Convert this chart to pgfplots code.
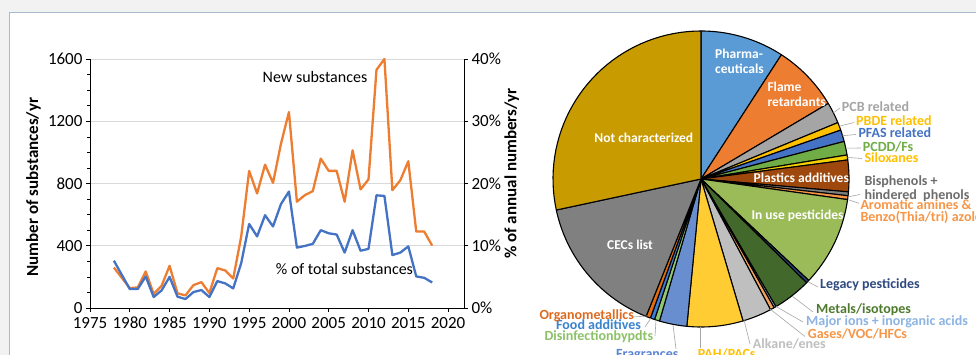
\documentclass[border=0pt]{standalone}
\usepackage{fontspec}
\setmainfont{Carlito}
\usepackage{pgfplots}
\pgfplotsset{compat=1.18}
\definecolor{bgGray}{HTML}{F2F2F2}
\definecolor{frameBlue}{HTML}{A9B9CF}
\definecolor{gridGray}{HTML}{D9D9D9}
\definecolor{orangeL}{HTML}{ED7D31}
\definecolor{blueL}{HTML}{4472C4}
\definecolor{cPharma}{HTML}{5B9BD5}
\definecolor{cFlame}{HTML}{ED7D31}
\definecolor{cPCB}{HTML}{A5A5A5}
\definecolor{cPBDE}{HTML}{FFC000}
\definecolor{cPFAS}{HTML}{4472C4}
\definecolor{cPCDD}{HTML}{70AD47}
\definecolor{cSilox}{HTML}{F5D000}
\definecolor{cPlast}{HTML}{9E480E}
\definecolor{cBisph}{HTML}{7F7F7F}
\definecolor{cArom}{HTML}{F79646}
\definecolor{cInuse}{HTML}{9BBB59}
\definecolor{cLegacy}{HTML}{264478}
\definecolor{cMetals}{HTML}{43682B}
\definecolor{cMajor}{HTML}{9DC3E6}
\definecolor{cGases}{HTML}{F4A460}
\definecolor{cAlkane}{HTML}{BFBFBF}
\definecolor{cPAH}{HTML}{FFCD33}
\definecolor{cFrag}{HTML}{698ED0}
\definecolor{cDisinf}{HTML}{8FC970}
\definecolor{cFood}{HTML}{3B7DD8}
\definecolor{cOrgano}{HTML}{E46C0A}
\definecolor{cCEC}{HTML}{808080}
\definecolor{cNotChar}{HTML}{C89B00}
\definecolor{tBisph}{HTML}{6D6D6D}
\definecolor{tLegacy}{HTML}{2F4A80}
\definecolor{tMetals}{HTML}{4E7A2E}
\definecolor{tMajor}{HTML}{8DB4E2}
\definecolor{tFrag}{HTML}{5B83D6}
\definecolor{tFood}{HTML}{3A83CF}
\definecolor{tOrgano}{HTML}{DD6A1E}
\definecolor{tDisinf}{HTML}{8CC168}
\definecolor{leader}{HTML}{A6A6A6}
\newcommand{\slice}[3]{\addplot[fill=#1, draw=black, line width=1.1pt, line join=round, domain=#2:#3, samples=40, variable=\t] ({cos(\t)},{sin(\t)}) -- (axis cs:0,0) -- cycle;}
\begin{document}
\begin{tikzpicture}
\useasboundingbox (0,0) rectangle (976pt,355pt);
\fill[bgGray] (0,0) rectangle (976pt,355pt);
\fill[white] (9pt,0) rectangle (976pt,342.3pt);
\draw[frameBlue, line width=0.8pt] (9pt,0) -- (9pt,342.3pt) -- (976pt,342.3pt);

% ---------- line chart, left axis ----------
\begin{axis}[
  at={(90pt,47pt)}, anchor=south west, scale only axis,
  width=374pt, height=249pt,
  xmin=1975, xmax=2022, ymin=0, ymax=1600,
  axis x line*=bottom, axis y line*=left,
  xtick={1975,1980,...,2020}, ytick={0,400,...,1600}, minor y tick num=3,
  ymajorgrids, major grid style={gridGray, line width=0.8pt},
  tick align=outside, major tick length=4pt, minor tick length=3pt,
  tick style={black, line width=0.6pt},
  axis line style={black, line width=0.8pt},
  tick label style={font=\fontsize{17}{20}\selectfont},
  xticklabel style={inner sep=2pt, yshift=-3pt},
  /pgf/number format/1000 sep={}, /pgf/number format/assume math mode=true,
]
\addplot[orangeL, line width=2.3pt, line join=round] coordinates {
(1978,260) (1980,128) (1981,132) (1982,235) (1983,90) (1984,143) (1985,271)
(1986,94) (1987,81) (1988,147) (1989,166) (1990,96) (1991,256) (1992,241)
(1993,190) (1994,459) (1995,881) (1996,736) (1997,921) (1998,804) (1999,1056)
(2000,1259) (2001,683) (2002,725) (2003,751) (2004,960) (2005,881) (2006,881)
(2007,683) (2008,1013) (2009,762) (2010,826) (2011,1530) (2012,1600) (2013,757)
(2014,821) (2015,943) (2016,491) (2017,491) (2018,401)};
\end{axis}

% ---------- line chart, right axis ----------
\begin{axis}[
  at={(90pt,47pt)}, anchor=south west, scale only axis,
  width=374pt, height=249pt,
  xmin=1975, xmax=2022, ymin=0, ymax=40,
  axis y line*=right, axis x line=none,
  ytick={0,10,...,40},
  yticklabel={\pgfmathprintnumber{\tick}\%},
  tick align=outside, major tick length=4pt,
  tick style={black, line width=0.6pt},
  axis line style={black, line width=0.8pt},
  tick label style={font=\fontsize{17}{20}\selectfont},
  /pgf/number format/assume math mode=true,
]
\addplot[blueL, line width=2.3pt, line join=round] coordinates {
(1978,7.6) (1980,3.04) (1981,3.04) (1982,5.07) (1983,1.76) (1984,2.83) (1985,5.0)
(1986,1.81) (1987,1.44) (1988,2.56) (1989,2.88) (1990,1.76) (1991,4.32) (1992,3.95)
(1993,3.15) (1994,7.2) (1995,13.5) (1996,11.5) (1997,14.9) (1998,13.1) (1999,16.7)
(2000,18.7) (2001,9.7) (2002,9.97) (2003,10.3) (2004,12.5) (2005,12.0) (2006,11.8)
(2007,8.9) (2008,12.5) (2009,9.2) (2010,9.5) (2011,18.1) (2012,18.0) (2013,8.5)
(2014,8.9) (2015,9.9) (2016,5.07) (2017,4.85) (2018,4.1)};
\end{axis}

\node[font=\fontsize{17}{20}\selectfont\bfseries, rotate=90] at (33.5pt,168pt) {Number of substances/yr};
\node[font=\fontsize{17}{20}\selectfont\bfseries, rotate=90] at (511.7pt,181.5pt) {\% of annual numbers/yr};
\node[font=\fontsize{16}{19}\selectfont] at (315pt,278pt) {New substances};
\node[font=\fontsize{16}{19}\selectfont] at (344.5pt,86pt) {\% of total substances};

% ---------- pie chart ----------
\begin{axis}[
  at={(701pt,176pt)}, anchor=center, scale only axis,
  width=296pt, height=296pt,
  xmin=-1, xmax=1, ymin=-1, ymax=1,
  hide axis, clip=false,
]
\slice{cPharma}{57.1}{90}
\slice{cFlame}{30.7}{57.1}
\slice{cPCB}{22.4}{30.7}
\slice{cPBDE}{19.3}{22.4}
\slice{cPFAS}{14.7}{19.3}
\slice{cPCDD}{9.35}{14.7}
\slice{cSilox}{7.4}{9.35}
\slice{cPlast}{-5.0}{7.4}
\slice{cBisph}{-6.5}{-5.0}
\slice{cArom}{-8.0}{-6.5}
\slice{cInuse}{-43.3}{-8.0}
\slice{cLegacy}{-44.5}{-43.3}
\slice{cMetals}{-59.6}{-44.5}
\slice{cMajor}{-60.4}{-59.6}
\slice{cGases}{-62.0}{-60.4}
\slice{cAlkane}{-73.5}{-62.0}
\slice{cPAH}{-95.5}{-73.5}
\slice{cFrag}{-106.3}{-95.5}
\slice{cDisinf}{-108.3}{-106.3}
\slice{cFood}{-110.0}{-108.3}
\slice{cOrgano}{-111.8}{-110.0}
\slice{cCEC}{-167.9}{-111.8}
\slice{cNotChar}{90}{192.1}
\end{axis}

% inside labels
\begin{scope}[every node/.style={font=\fontsize{13.5}{15}\selectfont\bfseries, text=white}]
\node[anchor=west, align=left] at (711.7pt,293.7pt) {Pharma-\\ceuticals};
\node[anchor=west, align=left] at (764pt,260.5pt) {Flame\\retardants};
\node at (643.8pt,216.7pt) {Not characterized};
\node at (801.3pt,176.7pt) {Plastics additives};
\node at (797.5pt,139pt) {In use pesticides};
\node at (630pt,110pt) {CECs list};
\end{scope}

% leader lines
\begin{scope}[leader, line width=0.6pt]
\draw (833.4pt,242.1pt) -- (840pt,247pt);
\draw (839.3pt,228.8pt) -- (854pt,232.5pt);
\draw (842.5pt,219.3pt) -- (856pt,220.5pt);
\draw (845.8pt,206.8pt) -- (861pt,207pt);
\draw (847.4pt,197.6pt) -- (862pt,196.5pt);
\draw (848.3pt,158.2pt) -- (860pt,160.5pt);
\draw (849pt,155pt) -- (859pt,151.7pt);
\draw (807.7pt,73.4pt) -- (818pt,68pt);
\draw (792pt,59pt) -- (813pt,43pt);
\draw (776pt,48.5pt) -- (803pt,33pt);
\draw (770pt,46pt) -- (805pt,18.5pt);
\draw (744pt,35pt) -- (750pt,11pt);
\draw (700pt,28pt) -- (700pt,7pt);
\draw (673pt,30pt) -- (676pt,6pt);
\draw (656pt,35pt) -- (655pt,19pt);
\draw (651pt,37pt) -- (645pt,28pt);
\draw (647pt,39pt) -- (633pt,38pt);
\end{scope}

% outside labels
\begin{scope}[every node/.style={font=\fontsize{14}{12}\selectfont\bfseries, anchor=west, align=left, inner sep=1pt, text height=1.5ex, text depth=0.3ex}]
\node[text=cPCB] at (840.7pt,246.7pt) {PCB related};
\node[text=cPBDE] at (855pt,232.3pt) {PBDE related};
\node[text=cPFAS] at (857.3pt,220pt) {PFAS related};
\node[text=cPCDD] at (861.7pt,206.7pt) {PCDD/Fs};
\node[text=cPBDE] at (863.3pt,195.7pt) {Siloxanes};
\node[text=tBisph, text height=, text depth=] at (863.3pt,166.3pt) {Bisphenols +\\hindered\ \ phenols};
\node[text=cArom, text height=, text depth=] at (859.3pt,143.2pt) {Aromatic amines \&\\Benzo(Thia/tri) azoles};
\node[text=tLegacy] at (819pt,69pt) {Legacy pesticides};
\node[text=tMetals] at (815pt,44pt) {Metals/isotopes};
\node[text=tMajor] at (805pt,32.7pt) {Major ions + inorganic acids};
\node[text=cArom] at (806.7pt,19pt) {Gases/VOC/HFCs};
\node[text=cAlkane] at (751.7pt,9.3pt) {Alkane/enes};
\node[text=cPBDE] at (696.7pt,-1pt) {PAH/PACs};
\node[text=tFrag] at (615pt,-1pt) {Fragrances};
\node[text=tDisinf] at (543.3pt,17.7pt) {Disinfectionbypdts};
\node[text=tFood] at (555pt,28.3pt) {Food additives};
\node[text=tOrgano] at (538.3pt,38.3pt) {Organometallics};
\end{scope}
\end{tikzpicture}
\end{document}
